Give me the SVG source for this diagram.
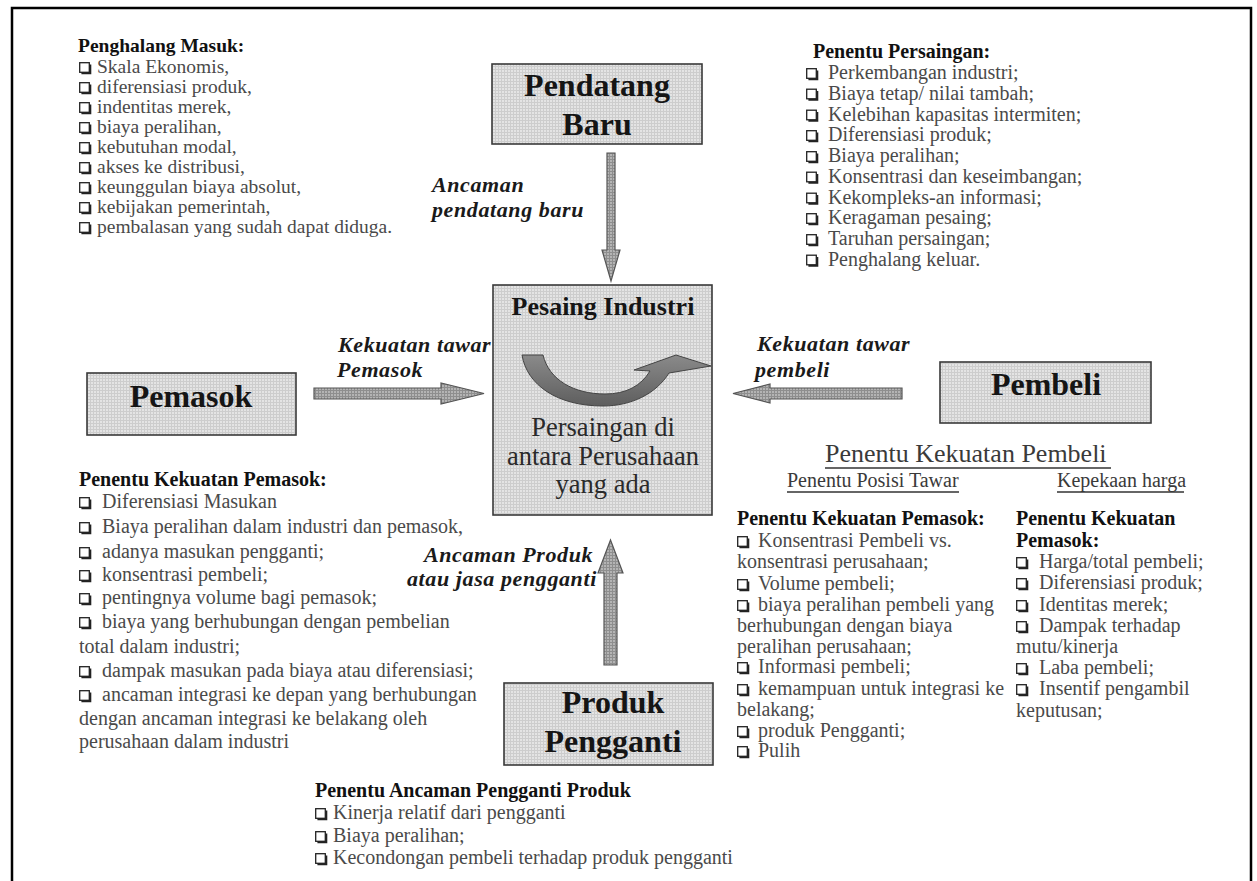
<svg xmlns="http://www.w3.org/2000/svg" width="1257" height="881" viewBox="0 0 1257 881">
  <style>
    .list { font-family: "Liberation Serif", "Times New Roman", serif; font-size: 20px; fill: #4a4a4a; }
    .head { font-family: "Liberation Serif", "Times New Roman", serif; font-size: 20px; font-weight: bold; fill: #111; }
    .box-label { font-family: "Liberation Serif", "Times New Roman", serif; font-size: 32px; font-weight: bold; fill: #151515; text-anchor: middle; }
    .force { font-family: "Liberation Serif", "Times New Roman", serif; font-size: 22px; font-weight: bold; font-style: italic; fill: #1a1a1a; letter-spacing: 0.6px; }
    .core { font-family: "Liberation Serif", "Times New Roman", serif; font-size: 26.5px; fill: #2a2a2a; text-anchor: middle; }
    .sub { font-family: "Liberation Serif", "Times New Roman", serif; fill: #3a3a3a; }
    .node-box { fill: url(#halftone); stroke: #3a3a3a; stroke-width: 1.6; }
    .arrow { fill: url(#arrowtone); stroke: #555; stroke-width: 1.2; }
    .rule { stroke: #333; stroke-width: 1.5; }
  </style>
  <defs>
    <pattern id="halftone" width="3" height="3" patternUnits="userSpaceOnUse">
      <rect width="3" height="3" fill="#e4e4e4"/>
      <path d="M0 0.5H3M0.5 0V3" stroke="#cdcdcd" stroke-width="1"/>
    </pattern>
    <pattern id="arrowtone" width="3" height="3" patternUnits="userSpaceOnUse">
      <rect width="3" height="3" fill="#b4b4b4"/>
      <path d="M0 0.5H3M0.5 0V3" stroke="#8e8e8e" stroke-width="1"/>
    </pattern>
    <linearGradient id="swoosh" x1="0" y1="0" x2="0" y2="1">
      <stop offset="0" stop-color="#8a8a8a"/>
      <stop offset="1" stop-color="#5e5e5e"/>
    </linearGradient>
    <!-- shadowed check-box bullet; origin is its top-left corner -->
    <g id="cb">
      <rect x="0.7" y="0.7" width="9.6" height="9.6" fill="#fff" stroke="#222" stroke-width="1.3"/>
      <path d="M11.3 2.4 V11.3 H2.4" fill="none" stroke="#222" stroke-width="2"/>
    </g>
  </defs>

  <rect width="1257" height="881" fill="#fff"/>
  <!-- page frame -->
  <path d="M12 881 V8 H1251 V881" fill="none" stroke="#000" stroke-width="2.5"/>

  <!-- connectors -->
  <g id="connectors">
    <path class="arrow" d="M607,153 H615 V250 H620 L611,281 L602,250 H607 Z"/>
    <path class="arrow" d="M314,388 H441 V383 L484,393.5 L441,404 V399 H314 Z"/>
    <path class="arrow" d="M902,388 H770 V384 L733,393.5 L770,403 V399 H902 Z"/>
    <path class="arrow" d="M604,665 V573 H598 L610.5,540 L623,573 H617 V665 Z"/>
    <text class="force" x="432" y="192">Ancaman</text>
    <text class="force" x="432" y="217">pendatang baru</text>
    <text class="force" x="338" y="352">Kekuatan tawar</text>
    <text class="force" x="337" y="377">Pemasok</text>
    <text class="force" x="757" y="351">Kekuatan tawar</text>
    <text class="force" x="755" y="377">pembeli</text>
    <text class="force" x="424" y="562">Ancaman Produk</text>
    <text class="force" x="407" y="586">atau jasa pengganti</text>
  </g>

  <!-- nodes -->
  <g id="node-pendatang-baru">
    <rect class="node-box" x="492" y="64" width="210" height="80"/>
    <text class="box-label" x="597" y="96">Pendatang</text>
    <text class="box-label" x="597" y="135">Baru</text>
  </g>

  <g id="node-pesaing-industri">
    <rect class="node-box" x="493" y="285" width="219" height="230"/>
    <text class="box-label" x="603" y="315" style="font-size:26px">Pesaing Industri</text>
    <path d="M522,355 L543,355 C549,380 574,394 605,394 C626,394 641,386 650,371 L634,370 L676,355 L711,366 L669,373 C656,394 631,406 603,406 C557,406 527,385 522,355 Z" fill="url(#swoosh)" stroke="#444" stroke-width="1"/>
    <text class="core" x="603" y="436">Persaingan di</text>
    <text class="core" x="603" y="465">antara Perusahaan</text>
    <text class="core" x="603" y="493">yang ada</text>
  </g>

  <g id="node-pemasok">
    <rect class="node-box" x="87" y="373" width="209" height="62"/>
    <text class="box-label" x="191" y="407">Pemasok</text>
  </g>

  <g id="node-pembeli">
    <rect class="node-box" x="940" y="362" width="211" height="61"/>
    <text class="box-label" x="1046" y="395">Pembeli</text>
  </g>

  <g id="node-produk-pengganti">
    <rect class="node-box" x="504" y="683" width="209" height="82"/>
    <text class="box-label" x="613" y="713">Produk</text>
    <text class="box-label" x="613" y="752">Pengganti</text>
  </g>

  <!-- barriers to entry -->
  <g id="list-penghalang-masuk">
    <text class="head" x="78" y="52" style="font-size:19.5px">Penghalang Masuk:</text>
    <use href="#cb" x="79" y="62"/><text class="list" x="97" y="73" style="font-size:19.5px">Skala Ekonomis,</text>
    <use href="#cb" x="79" y="82"/><text class="list" x="97" y="93" style="font-size:19.5px">diferensiasi produk,</text>
    <use href="#cb" x="79" y="102"/><text class="list" x="97" y="113" style="font-size:19.5px">indentitas merek,</text>
    <use href="#cb" x="79" y="122"/><text class="list" x="97" y="133" style="font-size:19.5px">biaya peralihan,</text>
    <use href="#cb" x="79" y="142"/><text class="list" x="97" y="153" style="font-size:19.5px">kebutuhan modal,</text>
    <use href="#cb" x="79" y="162"/><text class="list" x="97" y="173" style="font-size:19.5px">akses ke distribusi,</text>
    <use href="#cb" x="79" y="182"/><text class="list" x="97" y="193" style="font-size:19.5px">keunggulan biaya absolut,</text>
    <use href="#cb" x="79" y="202"/><text class="list" x="97" y="213" style="font-size:19.5px">kebijakan pemerintah,</text>
    <use href="#cb" x="79" y="222"/><text class="list" x="97" y="233" style="font-size:19.5px">pembalasan yang sudah dapat diduga.</text>
  </g>

  <!-- rivalry determinants -->
  <g id="list-penentu-persaingan">
    <text class="head" x="813" y="58">Penentu Persaingan:</text>
    <use href="#cb" x="806" y="68"/><text class="list" x="828" y="79">Perkembangan industri;</text>
    <use href="#cb" x="806" y="88.5"/><text class="list" x="828" y="99.5">Biaya tetap/ nilai tambah;</text>
    <use href="#cb" x="806" y="109.5"/><text class="list" x="828" y="120.5">Kelebihan kapasitas intermiten;</text>
    <use href="#cb" x="806" y="130"/><text class="list" x="828" y="141">Diferensiasi produk;</text>
    <use href="#cb" x="806" y="151"/><text class="list" x="828" y="162">Biaya peralihan;</text>
    <use href="#cb" x="806" y="171.5"/><text class="list" x="828" y="182.5">Konsentrasi dan keseimbangan;</text>
    <use href="#cb" x="806" y="192.5"/><text class="list" x="828" y="203.5">Kekompleks-an informasi;</text>
    <use href="#cb" x="806" y="213"/><text class="list" x="828" y="224">Keragaman pesaing;</text>
    <use href="#cb" x="806" y="234"/><text class="list" x="828" y="245">Taruhan persaingan;</text>
    <use href="#cb" x="806" y="254.5"/><text class="list" x="828" y="265.5">Penghalang keluar.</text>
  </g>

  <!-- supplier power -->
  <g id="list-kekuatan-pemasok">
    <text class="head" x="79" y="486">Penentu Kekuatan Pemasok:</text>
    <use href="#cb" x="79" y="497"/><text class="list" x="102" y="508">Diferensiasi Masukan</text>
    <use href="#cb" x="79" y="522"/><text class="list" x="102" y="533">Biaya peralihan dalam industri dan pemasok,</text>
    <use href="#cb" x="79" y="547"/><text class="list" x="102" y="558">adanya masukan pengganti;</text>
    <use href="#cb" x="79" y="570"/><text class="list" x="102" y="581">konsentrasi pembeli;</text>
    <use href="#cb" x="79" y="593"/><text class="list" x="102" y="604">pentingnya volume bagi pemasok;</text>
    <use href="#cb" x="79" y="617"/><text class="list" x="102" y="628">biaya yang berhubungan dengan pembelian</text>
    <text class="list" x="79" y="653">total dalam industri;</text>
    <use href="#cb" x="79" y="666"/><text class="list" x="102" y="677">dampak masukan pada biaya atau diferensiasi;</text>
    <use href="#cb" x="79" y="690"/><text class="list" x="102" y="701">ancaman integrasi ke depan yang berhubungan</text>
    <text class="list" x="79" y="725">dengan ancaman integrasi ke belakang oleh</text>
    <text class="list" x="79" y="748">perusahaan dalam industri</text>
  </g>

  <!-- buyer power -->
  <g id="list-kekuatan-pembeli">
    <text class="sub" x="825" y="462" style="font-size:26px">Penentu Kekuatan Pembeli</text>
    <line class="rule" x1="825" y1="468" x2="1111" y2="468"/>
    <text class="sub" x="787" y="487" style="font-size:20px">Penentu Posisi Tawar</text>
    <line class="rule" x1="787" y1="492" x2="959" y2="492"/>
    <text class="sub" x="1057" y="487" style="font-size:20px">Kepekaan harga</text>
    <line class="rule" x1="1057" y1="492" x2="1184" y2="492"/>
  </g>

  <g id="list-posisi-tawar">
    <text class="head" x="737" y="525">Penentu Kekuatan Pemasok:</text>
    <use href="#cb" x="737" y="536"/><text class="list" x="758" y="547">Konsentrasi Pembeli vs.</text>
    <text class="list" x="737" y="568">konsentrasi perusahaan;</text>
    <use href="#cb" x="737" y="579"/><text class="list" x="758" y="590">Volume pembeli;</text>
    <use href="#cb" x="737" y="600"/><text class="list" x="758" y="611">biaya peralihan pembeli yang</text>
    <text class="list" x="737" y="632">berhubungan dengan biaya</text>
    <text class="list" x="737" y="653">peralihan perusahaan;</text>
    <use href="#cb" x="737" y="662"/><text class="list" x="758" y="673">Informasi pembeli;</text>
    <use href="#cb" x="737" y="684"/><text class="list" x="758" y="695">kemampuan untuk integrasi ke</text>
    <text class="list" x="737" y="716">belakang;</text>
    <use href="#cb" x="737" y="726"/><text class="list" x="758" y="737">produk Pengganti;</text>
    <use href="#cb" x="737" y="746"/><text class="list" x="758" y="757">Pulih</text>
  </g>

  <g id="list-kepekaan-harga">
    <text class="head" x="1016" y="525">Penentu Kekuatan</text>
    <text class="head" x="1016" y="547">Pemasok:</text>
    <use href="#cb" x="1016" y="557"/><text class="list" x="1039" y="568">Harga/total pembeli;</text>
    <use href="#cb" x="1016" y="578"/><text class="list" x="1039" y="589">Diferensiasi produk;</text>
    <use href="#cb" x="1016" y="600"/><text class="list" x="1039" y="611">Identitas merek;</text>
    <use href="#cb" x="1016" y="621"/><text class="list" x="1039" y="632">Dampak terhadap</text>
    <text class="list" x="1016" y="653">mutu/kinerja</text>
    <use href="#cb" x="1016" y="663"/><text class="list" x="1039" y="674">Laba pembeli;</text>
    <use href="#cb" x="1016" y="684"/><text class="list" x="1039" y="695">Insentif pengambil</text>
    <text class="list" x="1016" y="717">keputusan;</text>
  </g>

  <!-- substitute threat -->
  <g id="list-ancaman-pengganti">
    <text class="head" x="315" y="797">Penentu Ancaman Pengganti Produk</text>
    <use href="#cb" x="315" y="808"/><text class="list" x="333" y="819">Kinerja relatif dari pengganti</text>
    <use href="#cb" x="315" y="831"/><text class="list" x="333" y="842">Biaya peralihan;</text>
    <use href="#cb" x="315" y="853"/><text class="list" x="333" y="864">Kecondongan pembeli terhadap produk pengganti</text>
  </g>
</svg>
